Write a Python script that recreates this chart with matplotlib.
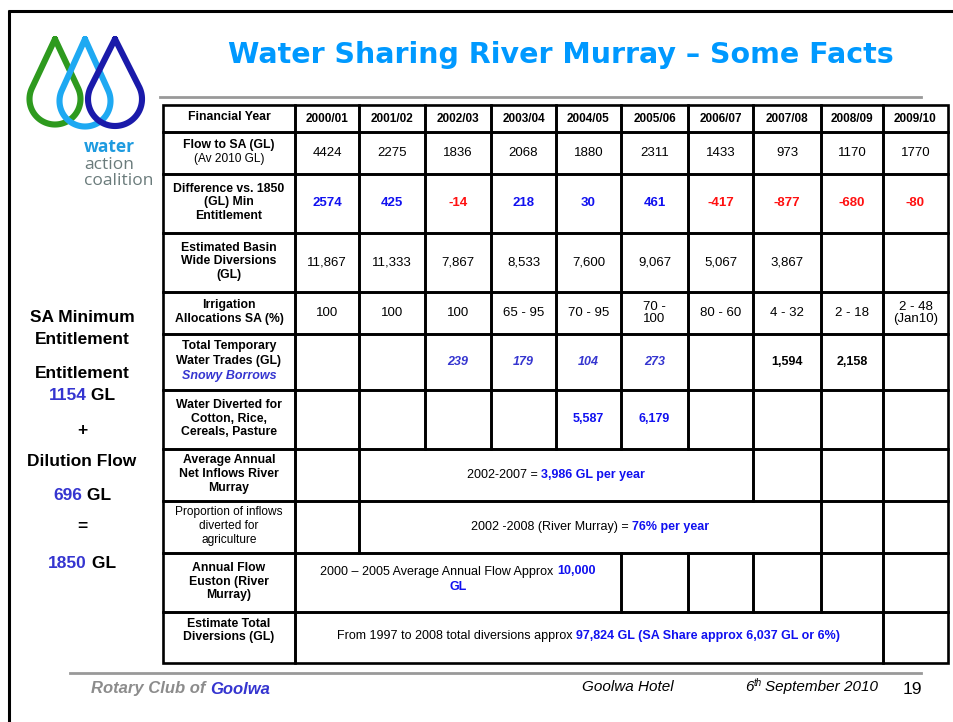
import numpy as np
import matplotlib.pyplot as plt
from matplotlib.patches import Rectangle

# ---- data ----
years = ["2000/01", "2001/02", "2002/03", "2003/04", "2004/05",
         "2005/06", "2006/07", "2007/08", "2008/09", "2009/10"]
flow_to_sa = ["4424", "2275", "1836", "2068", "1880", "2311", "1433", "973", "1170", "1770"]
diff_1850 = [2574, 425, -14, 218, 30, 461, -417, -877, -680, -80]
basin_div = ["11,867", "11,333", "7,867", "8,533", "7,600", "9,067", "5,067", "3,867", "", ""]
irrigation = ["100", "100", "100", "65 - 95", "70 - 95", "70 -\n100", "80 - 60", "4 - 32", "2 - 18",
              "2 - 48\n(Jan10)"]
snowy_borrows = ["", "", "239", "179", "104", "273", "", "", "", ""]
temp_trades = ["", "", "", "", "", "", "", "1,594", "2,158", ""]
cotton_div = ["", "", "", "", "5,587", "6,179", "", "", "", ""]

row_labels = [
    [[("Financial Year", "b")]],
    [[("Flow to SA (GL)", "b")], [("(Av 2010 GL)", "r")]],
    [[("Difference vs. 1850", "b")], [("(GL) Min", "b")], [("Entitlement", "b")]],
    [[("Estimated Basin", "b")], [("Wide Diversions", "b")], [("(GL)", "b")]],
    [[("Irrigation", "b")], [("Allocations SA (%)", "b")]],
    [[("Total Temporary", "b")], [("Water Trades (GL)", "b")], [("Snowy Borrows", "bi")]],
    [[("Water Diverted for", "b")], [("Cotton, Rice,", "b")], [("Cereals, Pasture", "b")]],
    [[("Average Annual", "b")], [("Net Inflows River", "b")], [("Murray", "b")]],
    [[("Proportion of inflows", "r")], [("diverted for", "r")], [("agriculture", "r")]],
    [[("Annual Flow", "b")], [("Euston (River", "b")], [("Murray)", "b")]],
    [[("Estimate Total", "b")], [("Diversions (GL)", "b")]],
]

# merged notes: (row, first col, last col, lines)
notes = [
    (7, 1, 6, [[("2002-2007 = ", "r9"), ("3,986 GL per year", "bb9")]]),
    (8, 1, 7, [[("2002 -2008 (River Murray) = ", "r9"), ("76% per year", "bb9")]]),
    (9, 0, 4, [[("2000 \u2013 2005 Average Annual Flow Approx ", "r9"), ("10,000", "bb9")],
               [("GL", "bb9")]]),
    (10, 0, 8, [[("From 1997 to 2008 total diversions approx ", "r9"),
                 ("97,824 GL (SA Share approx 6,037 GL or 6%)", "bb9")]]),
]

# ---- layout ----
col_x = [163, 295, 359, 425, 491, 556, 621, 688, 753, 821, 883, 948]
row_y = [105, 132, 174, 233, 292, 334, 390, 449, 501, 553, 612, 663]

BLUE = "#1010F0"
PURPLE = "#3535D0"
FONT = "Liberation Sans"
styles = {
    "b": dict(fontsize=8.8, fontweight="bold", color="black"),
    "r": dict(fontsize=8.6, color="black"),
    "bi": dict(fontsize=9, fontweight="bold", fontstyle="italic", color=PURPLE),
    "r9": dict(fontsize=9, color="black"),
    "bb9": dict(fontsize=9, fontweight="bold", color=BLUE),
}

fig = plt.figure(figsize=(9.54, 7.22), dpi=100)
ax = fig.add_axes([0, 0, 1, 1])
ax.set_xlim(0, 954)
ax.set_ylim(722, 0)
ax.axis("off")
renderer = fig.canvas.get_renderer()


def rich_line(x, y, parts):
    objs = []
    for s, key in parts:
        t = ax.text(0, y, s, family=FONT, va="center", ha="left", **styles[key])
        objs.append(t)
    widths = [t.get_window_extent(renderer).width for t in objs]
    x0 = x - sum(widths) / 2
    for t, w in zip(objs, widths):
        t.set_x(x0)
        x0 += w


def rich_block(x, y, lines, lh=13.5):
    n = len(lines)
    for i, parts in enumerate(lines):
        rich_line(x, y + (i - (n - 1) / 2) * lh, parts)


# frame
ax.plot([9, 9], [10, 722], color="black", lw=2.2, solid_capstyle="butt")
ax.plot([8, 954], [11, 11], color="black", lw=2.2, solid_capstyle="butt")

# title + rules
ax.text(561, 55, "Water Sharing River Murray \u2013 Some Facts", family="DejaVu Sans",
        fontsize=20.5, fontweight="bold", color="#0099FF", ha="center", va="center")
ax.plot([160, 921], [97, 97], color="#999999", lw=2)
ax.plot([70, 921], [673, 673], color="#999999", lw=2)

# logo droplets
def drop(cx, cy, r, tip_y, color):
    h = cy - tip_y
    th = np.arccos(r / h)
    phi = np.pi / 2 - th
    ang = np.linspace(phi, -np.pi - phi, 80)
    xs = np.concatenate([[cx], cx + r * np.cos(ang), [cx]])
    ys = np.concatenate([[tip_y], cy - r * np.sin(ang), [tip_y]])
    ax.plot(xs, ys, color=color, lw=4.4, solid_joinstyle="round", solid_capstyle="round")

drop(55, 99, 25.5, 39, "#2E9A1E")
drop(85, 101, 25.5, 39, "#1EA9F2")
drop(115, 99, 27, 39, "#1A1AAA")
ax.text(84, 147, "water", family="Open Sans", fontsize=12.5, fontweight="bold",
        color="#1E9BE0", ha="left", va="center")
ax.text(84, 173, "action\ncoalition", family="Open Sans", fontsize=12.5, color="#6A7B7B",
        ha="left", va="center", linespacing=0.95)

# table grid
def cell(r, c0, c1):
    ax.add_patch(Rectangle((col_x[c0], row_y[r]), col_x[c1] - col_x[c0],
                           row_y[r + 1] - row_y[r], fill=False, ec="black", lw=1.9))

merged = {n[0]: n for n in notes}
for r in range(len(row_y) - 1):
    cell(r, 0, 1)
    if r in merged:
        _, c0, c1, _ = merged[r]
        for c in range(10):
            if c < c0 or c > c1:
                cell(r, c + 1, c + 2)
        cell(r, c0 + 1, c1 + 2)
    else:
        for c in range(10):
            cell(r, c + 1, c + 2)

# row labels
lx = (col_x[0] + col_x[1]) / 2
for r, lines in enumerate(row_labels):
    cy = (row_y[r] + row_y[r + 1]) / 2
    if r == 10:
        cy -= 6
    rich_block(lx, cy - 1, lines, lh=13.5 if r != 5 else 15)

# values
def put(r, c, s, **kw):
    if not s:
        return
    x = (col_x[c + 1] + col_x[c + 2]) / 2
    y = (row_y[r] + row_y[r + 1]) / 2
    ax.text(x, y, s, family=FONT, ha="center", va="center", linespacing=1.05, **kw)

for c in range(10):
    put(0, c, years[c], fontsize=8.5, fontweight="bold")
    put(1, c, flow_to_sa[c], fontsize=9.5)
    put(2, c, str(diff_1850[c]), fontsize=9.5, fontweight="bold",
        color=BLUE if diff_1850[c] >= 0 else "#FF1010")
    put(3, c, basin_div[c], fontsize=9.5)
    put(4, c, irrigation[c], fontsize=9.5)
    put(5, c, snowy_borrows[c], fontsize=9, fontweight="bold", fontstyle="italic", color=PURPLE)
    put(5, c, temp_trades[c], fontsize=9, fontweight="bold")
    put(6, c, cotton_div[c], fontsize=9, fontweight="bold", color=BLUE)

for r, c0, c1, lines in notes:
    x = (col_x[c0 + 1] + col_x[c1 + 2]) / 2
    y = (row_y[r] + row_y[r + 1]) / 2
    if r == 9:
        y -= 3
    if r == 10:
        y -= 1
    rich_block(x, y, lines, lh=16)

# left side summary
left = dict(family=FONT, fontsize=12.5, fontweight="bold", ha="center", va="center")
styles["L"] = dict(fontsize=12.5, fontweight="bold", color="black")
styles["LB"] = dict(fontsize=12.5, fontweight="bold", color="#3535D0")
ax.text(82, 318, "SA Minimum", **left)
ax.text(82, 340, "Entitlement", **left)
ax.text(82, 373, "Entitlement", **left)
rich_line(82, 395, [("1154", "LB"), (" GL", "L")])
ax.text(82, 430, "+", **left)
ax.text(82, 462, "Dilution Flow", **left)
rich_line(82, 495, [("696", "LB"), (" GL", "L")])
ax.text(82, 527, "=", **left)
rich_line(82, 563, [("1850", "LB"), (" GL", "L")])

# footer
t1 = ax.text(91, 689, "Rotary Club of ", family=FONT, fontsize=12, fontweight="bold",
             fontstyle="italic", color="#8C8C8C", ha="left", va="center")
w1 = t1.get_window_extent(renderer).width
ax.text(91 + w1, 689, "Goolwa", family=FONT, fontsize=12, fontweight="bold",
        fontstyle="italic", color="#3535D0", ha="left", va="center")
ax.text(582, 687, "Goolwa Hotel", family=FONT, fontsize=11, fontstyle="italic",
        ha="left", va="center")
t6 = ax.text(745, 687, "6", family=FONT, fontsize=11, fontstyle="italic", ha="left", va="center")
w6 = t6.get_window_extent(renderer).width
tth = ax.text(745 + w6, 683, "th", family=FONT, fontsize=7, fontstyle="italic",
              ha="left", va="center")
wth = tth.get_window_extent(renderer).width
ax.text(745 + w6 + wth + 3, 687, "September 2010", family=FONT, fontsize=11,
        fontstyle="italic", ha="left", va="center")
ax.text(903, 689, "19", family=FONT, fontsize=12.5, ha="left", va="center")

fig.savefig("out.png", dpi=100)
